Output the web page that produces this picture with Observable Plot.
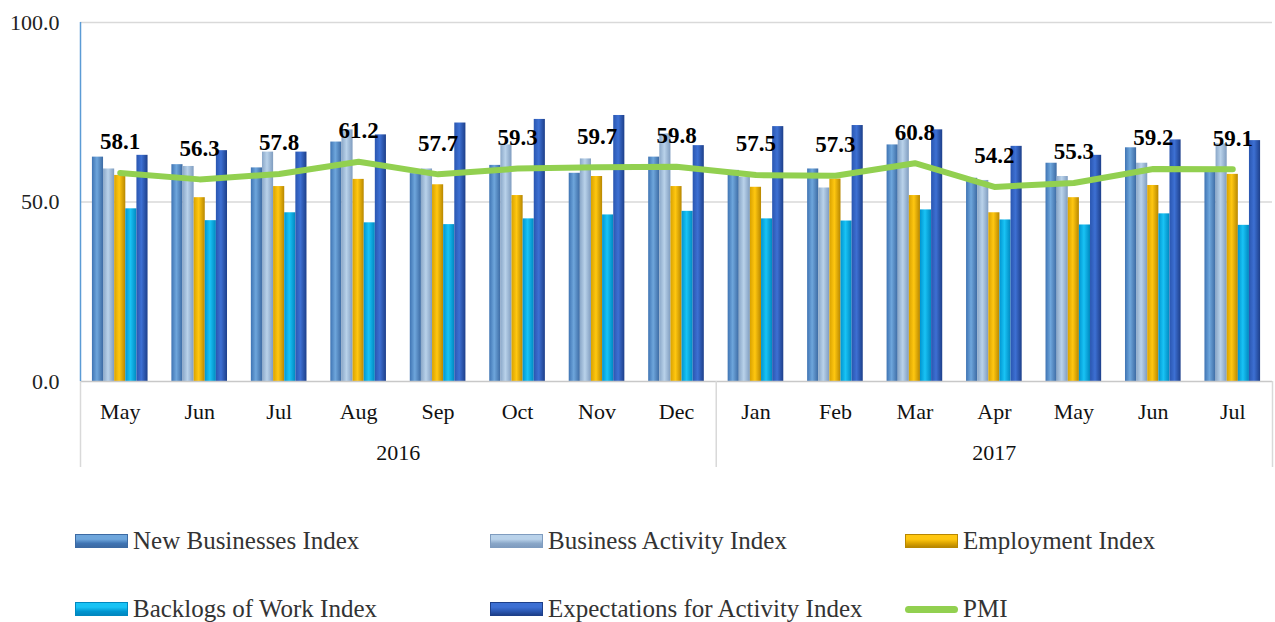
<!DOCTYPE html>
<html>
<head>
<meta charset="utf-8">
<script src="https://cdn.jsdelivr.net/npm/d3@7"></script>
<script src="https://cdn.jsdelivr.net/npm/@observablehq/plot@0.6"></script>
<style>
  body { margin: 0; background: #fff; font-family: "Liberation Serif", "DejaVu Serif", serif; }
  #chart { width: 1275px; }
  .legend { position: relative; width: 1275px; height: 132px; }
  .item { position: absolute; display: flex; align-items: center; font-size: 25px; color: #333; }
  .sw { width: 53px; height: 14px; margin-right: 5px; box-sizing: border-box; }
</style>
</head>
<body>
<div id="chart"></div>
<div class="legend" id="legend"></div>
<script>
const months = ["May","Jun","Jul","Aug","Sep","Oct","Nov","Dec","Jan","Feb","Mar","Apr","May","Jun","Jul"];
const monthYears = ["2016","2016","2016","2016","2016","2016","2016","2016","2017","2017","2017","2017","2017","2017","2017"];
const seriesNames = ["New Businesses Index","Business Activity Index","Employment Index","Backlogs of Work Index","Expectations for Activity Index"];
const newBusinesses   = [62.5, 60.4, 59.5, 66.7, 57.9, 60.2, 58.0, 62.5, 58.8, 59.2, 65.9, 56.6, 60.8, 65.1, 58.5];
const businessActivity= [59.2, 59.9, 63.9, 70.1, 59.2, 65.9, 62.0, 69.0, 56.9, 53.9, 67.6, 56.0, 57.1, 60.8, 66.2];
const employment      = [57.4, 51.2, 54.3, 56.3, 54.8, 51.8, 57.1, 54.3, 54.1, 56.4, 51.8, 47.0, 51.2, 54.6, 57.7];
const backlogs        = [48.1, 44.8, 47.0, 44.2, 43.7, 45.3, 46.4, 47.4, 45.3, 44.7, 47.8, 45.0, 43.6, 46.7, 43.5];
const expectations    = [63.0, 64.3, 63.9, 68.7, 72.0, 73.0, 74.1, 65.7, 71.0, 71.3, 70.1, 65.5, 63.0, 67.3, 67.1];
const pmi             = [58.1, 56.3, 57.8, 61.2, 57.7, 59.3, 59.7, 59.8, 57.5, 57.3, 60.8, 54.2, 55.3, 59.2, 59.1];
const yTicks = [0, 50, 100];

const seriesValues = [newBusinesses, businessActivity, employment, backlogs, expectations];
const gradients = [
  ["#3f74b3", "#6ea6dc", "#3c6aa3"],
  ["#8aa7c8", "#b9d2ea", "#7f9cbf"],
  ["#d9a200", "#ffc710", "#b88700"],
  ["#0095d0", "#19c3f5", "#0088c0"],
  ["#2a56b0", "#3d70d3", "#1d3f8a"]
];
const groupWidth = 0.7;
const barW = groupWidth / seriesNames.length;

const barMarks = seriesValues.map((vals, j) => {
  const rows = vals.map((v, i) => ({i, v, x1: i - groupWidth / 2 + j * barW, x2: i - groupWidth / 2 + (j + 1) * barW}));
  return Plot.rectY(rows, {x1: "x1", x2: "x2", y1: 0, y2: "v", fill: `url(#g${j})`});
});

const monthRows = months.map((m, i) => ({i, m, y: monthYears[i]}));
const yearRows = Array.from(d3.group(monthRows, d => d.y), ([year, rs]) => ({year, x: d3.mean(rs, d => d.i)}));
const sepRows = [-0.5, ...d3.range(1, months.length).filter(i => monthYears[i] !== monthYears[i - 1]).map(i => i - 0.5), months.length - 0.5];
const pmiRows = pmi.map((v, i) => ({i, v}));

const chart = Plot.plot({
  width: 1275,
  height: 490,
  marginLeft: 80,
  marginRight: 3,
  marginTop: 22,
  marginBottom: 109,
  style: {fontFamily: '"Liberation Serif", "DejaVu Serif", serif', fontSize: "22px", color: "#000", background: "#fff"},
  x: {domain: [-0.5, months.length - 0.5], axis: null},
  y: {domain: [0, 100], axis: null},
  marks: [
    Plot.ruleY([50, 100], {stroke: "#d9d9d9", strokeWidth: 1.5}),
    ...barMarks,
    Plot.ruleY([0], {stroke: "#c8c8c8", strokeWidth: 1.5}),
    Plot.ruleX(sepRows, {x: d => d, y1: 0, y2: 0, insetBottom: -86, stroke: "#d9d9d9", strokeWidth: 1.5}),
    Plot.ruleX([-0.5], {stroke: "#5b9bd5", strokeWidth: 1.5}),
    Plot.line(pmiRows, {x: "i", y: "v", stroke: "#92d050", strokeWidth: 6, strokeLinecap: "round", strokeLinejoin: "round"}),
    Plot.text(pmiRows, {x: "i", y: "v", text: d => d.v.toFixed(1), dy: -31, fontWeight: "bold", fontSize: 23, fill: "#000"}),
    Plot.text(yTicks, {y: d => d, text: d => d.toFixed(1), frameAnchor: "left", textAnchor: "end", dx: -21, fontSize: 22, fill: "#222"}),
    Plot.text(monthRows, {x: "i", text: "m", frameAnchor: "bottom", dy: 37, fontSize: 22, fill: "#111"}),
    Plot.text(yearRows, {x: "x", text: "year", frameAnchor: "bottom", dy: 78, fontSize: 22, fill: "#111"})
  ]
});

const defs = d3.select(chart).insert("defs", ":first-child");
gradients.forEach((g, j) => {
  const lg = defs.append("linearGradient").attr("id", `g${j}`).attr("x1", "0").attr("x2", "1").attr("y1", "0").attr("y2", "0");
  lg.append("stop").attr("offset", "0").attr("stop-color", g[0]);
  lg.append("stop").attr("offset", "0.45").attr("stop-color", g[1]);
  lg.append("stop").attr("offset", "1").attr("stop-color", g[2]);
});
document.getElementById("chart").appendChild(chart);

// Legend
const legendItems = [
  ...seriesNames.map((name, j) => ({name, j})),
  {name: "PMI", j: -1}
];
const cols = [75, 490, 905];
const rowsY = [51, 119];
const legend = document.getElementById("legend");
legendItems.forEach((it, k) => {
  const div = document.createElement("div");
  div.className = "item";
  div.style.left = cols[k % 3] + "px";
  div.style.top = (rowsY[Math.floor(k / 3)] - 15) + "px";
  div.style.height = "30px";
  const sw = document.createElement("div");
  sw.className = "sw";
  if (it.j >= 0) {
    const g = gradients[it.j];
    sw.style.background = `linear-gradient(to bottom, ${g[1]} 0%, ${g[1]} 35%, ${g[0]} 70%, ${g[2]} 100%)`;
    sw.style.border = `1px solid ${g[2]}`;
  } else {
    sw.style.height = "7px";
    sw.style.borderRadius = "4px";
    sw.style.background = "#92d050";
  }
  div.appendChild(sw);
  const t = document.createElement("span");
  t.textContent = it.name;
  div.appendChild(t);
  legend.appendChild(div);
});
</script>
</body>
</html>
